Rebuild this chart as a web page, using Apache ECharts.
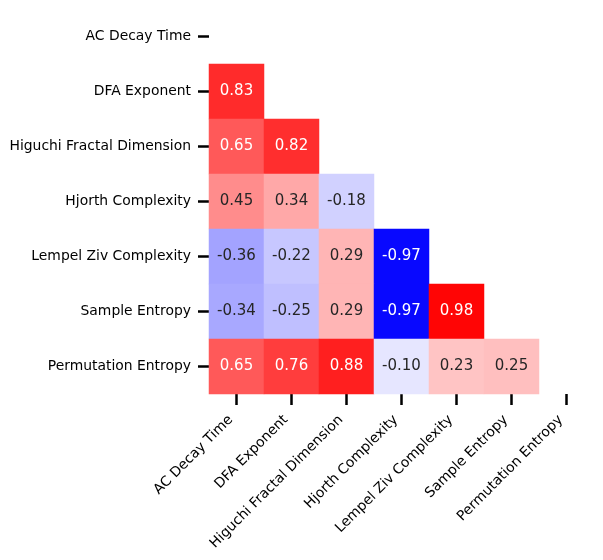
<!DOCTYPE html>
<html lang="en">
<head>
    <meta charset="UTF-8">
    <title>correlation heatmap</title>
    <style>
        html, body { margin: 0; padding: 0; background: #fff; }
    </style>
</head>
<body>

<div id="main" style="width: 603px; height: 560px;"></div>

<script src="https://cdn.jsdelivr.net/npm/echarts@6/dist/echarts.min.js"></script>
<script>
    // feature names, same order on both axes
    var features = ['AC Decay Time', 'DFA Exponent', 'Higuchi Fractal Dimension', 'Hjorth Complexity',
        'Lempel Ziv Complexity', 'Sample Entropy', 'Permutation Entropy'];

    // lower triangle of the correlation matrix, one array per row (row 0 is masked)
    var rowDFA = [0.83];
    var rowHiguchi = [0.65, 0.82];
    var rowHjorth = [0.45, 0.34, -0.18];
    var rowLempel = [-0.36, -0.22, 0.29, -0.97];
    var rowSample = [-0.34, -0.25, 0.29, -0.97, 0.98];
    var rowPerm = [0.65, 0.76, 0.88, -0.10, 0.23, 0.25];
    var rows = [[], rowDFA, rowHiguchi, rowHjorth, rowLempel, rowSample, rowPerm];

    var cells = [];
    for (var i = 0; i < rows.length; i++) {
        for (var j = 0; j < rows[i].length; j++) {
            var v = rows[i][j];
            cells.push({
                value: [j, i, v],
                label: { color: Math.abs(v) >= 0.5 ? '#ffffff' : '#262626' }
            });
        }
    }

    var myChart = echarts.init(document.getElementById('main'));

    var font = 'DejaVu Sans';
    var option = {
        backgroundColor: '#ffffff',
        animation: false,
        grid: { left: 209, top: 9, width: 385, height: 385 },
        xAxis: {
            type: 'category',
            data: features,
            axisLine: { show: false },
            axisTick: { show: true, alignWithLabel: true, length: 11, lineStyle: { color: '#000', width: 2.5 } },
            // right padding pulls the rotated text down-left so its end sits under the tick
            axisLabel: { rotate: 45, margin: 18, padding: [0, 8, 0, 0], fontFamily: font, fontSize: 13.9, color: '#000', interval: 0 },
            splitLine: { show: false }
        },
        yAxis: {
            type: 'category',
            data: features,
            inverse: true,
            axisLine: { show: false },
            axisTick: { show: true, alignWithLabel: true, length: 11, lineStyle: { color: '#000', width: 2.5 } },
            axisLabel: { margin: 18, padding: [4, 0, 0, 0], fontFamily: font, fontSize: 13.9, color: '#000', interval: 0 },
            splitLine: { show: false }
        },
        visualMap: {
            type: 'continuous',
            show: false,
            min: -1,
            max: 1,
            dimension: 2,
            inRange: { color: ['#0000ff', '#ffffff', '#ff0000'] }
        },
        series: [
            {
                type: 'heatmap',
                data: cells,
                label: {
                    show: true,
                    fontFamily: font,
                    fontSize: 15,
                    formatter: function (p) { return p.value[2].toFixed(2); }
                },
                emphasis: { disabled: true }
            }
        ]
    };
    myChart.setOption(option);
</script>
</body>
</html>
